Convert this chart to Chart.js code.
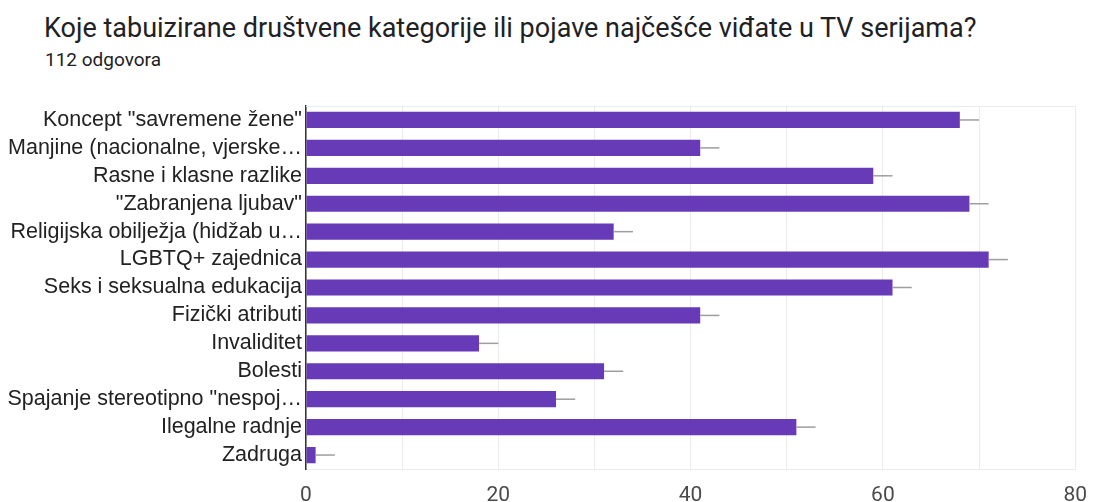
<!DOCTYPE html>
<html>
<head>
<meta charset="utf-8">
<script src="https://cdn.jsdelivr.net/npm/chart.js@4.4.0/dist/chart.umd.min.js"></script>
<style>
  html, body { margin: 0; padding: 0; background: #fff; }
  body { width: 1101px; height: 502px; position: relative; overflow: hidden; }
  #title { position: absolute; left: 44px; top: 12px; font-family: Roboto, sans-serif; font-size: 27px; color: #202124; white-space: nowrap; }
  #sub { position: absolute; left: 45px; top: 48px; font-family: Roboto, sans-serif; font-size: 19px; color: #202124; white-space: nowrap; }
  #wrap { position: absolute; left: 0; top: 0; width: 1101px; height: 502px; }
</style>
</head>
<body>
<div id="title">Koje tabuizirane društvene kategorije ili pojave najčešće viđate u TV serijama?</div>
<div id="sub">112 odgovora</div>
<div id="wrap"><canvas id="c" width="1101" height="502"></canvas></div>
<script>
const categories = [
  'Koncept "savremene žene"',
  'Manjine (nacionalne, vjerske…',
  'Rasne i klasne razlike',
  '"Zabranjena ljubav"',
  'Religijska obilježja (hidžab u…',
  'LGBTQ+ zajednica',
  'Seks i seksualna edukacija',
  'Fizički atributi',
  'Invaliditet',
  'Bolesti',
  'Spajanje stereotipno "nespoj…',
  'Ilegalne radnje',
  'Zadruga'
];
const counts = [68, 41, 59, 69, 32, 71, 61, 41, 18, 31, 26, 51, 1];
const errorMargins = [2, 2, 2, 2, 2, 2, 2, 2, 2, 2, 2, 2, 2];
const xTickLabels = [0, 20, 40, 60, 80];

const errorBarPlugin = {
  id: 'errorBars',
  afterDatasetsDraw(chart) {
    const ctx = chart.ctx;
    const xs = chart.scales.x, ys = chart.scales.y;
    ctx.save();
    ctx.strokeStyle = '#9e9e9e';
    ctx.lineWidth = 1.5;
    counts.forEach((v, i) => {
      const y = ys.getPixelForValue(i);
      ctx.beginPath();
      ctx.moveTo(xs.getPixelForValue(v), y);
      ctx.lineTo(xs.getPixelForValue(v + errorMargins[i]), y);
      ctx.stroke();
    });
    ctx.restore();
  }
};
const topLinePlugin = {
  id: 'topLine',
  beforeDatasetsDraw(chart) {
    const a = chart.chartArea, ctx = chart.ctx;
    ctx.save();
    ctx.strokeStyle = '#ebebeb';
    ctx.lineWidth = 1;
    ctx.beginPath();
    ctx.moveTo(a.left, a.top + 0.5);
    ctx.lineTo(a.right, a.top + 0.5);
    ctx.stroke();
    ctx.restore();
  }
};

new Chart(document.getElementById('c'), {
  type: 'bar',
  data: {
    labels: categories,
    datasets: [{
      data: counts,
      backgroundColor: '#673ab7',
      borderWidth: 0,
      barPercentage: 0.58,
      categoryPercentage: 1.0
    }]
  },
  options: {
    indexAxis: 'y',
    responsive: false,
    animation: false,
    devicePixelRatio: 1,
    layout: { padding: { top: 106, right: 13, left: 0, bottom: 0 } },
    plugins: { legend: { display: false }, tooltip: { enabled: false } },
    scales: {
      x: {
        min: 0, max: 80,
        afterFit(s) { s.height = 33; },
        ticks: {
          stepSize: 10,
          autoSkip: false,
          maxRotation: 0,
          padding: 14,
          color: '#4a4a4a',
          font: { family: 'Roboto, sans-serif', size: 21 },
          callback(v) { return xTickLabels.includes(v) ? String(v) : ''; }
        },
        grid: { color: '#ebebeb', drawTicks: false, lineWidth: 1 },
        border: { display: true, color: '#ebebeb' }
      },
      y: {
        afterFit(s) { s.width = 306; },
        ticks: {
          autoSkip: false,
          padding: 4,
          color: '#222',
          font: { family: '"Liberation Sans", Arial, sans-serif', size: 21.5 }
        },
        grid: { display: false, drawTicks: false },
        border: { display: true, color: '#333', width: 1.5 }
      }
    }
  },
  plugins: [errorBarPlugin, topLinePlugin]
});
</script>
</body>
</html>
